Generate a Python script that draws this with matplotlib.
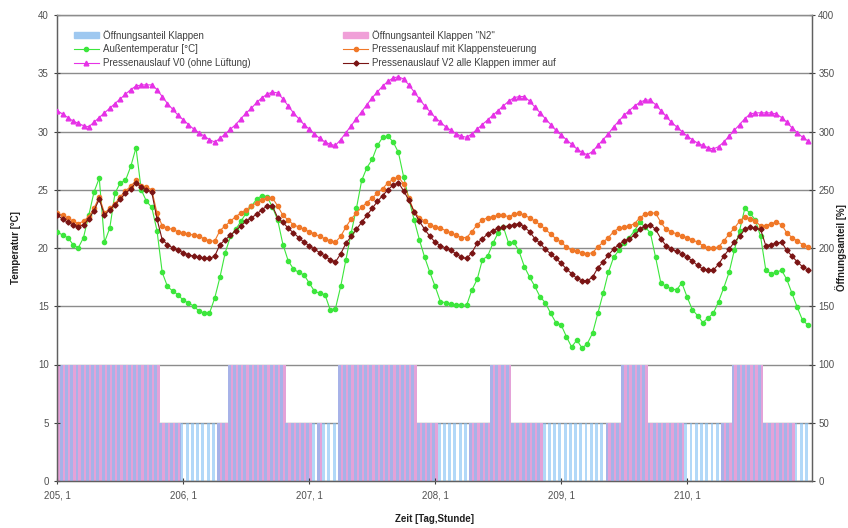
import matplotlib
matplotlib.use("Agg")
import matplotlib.pyplot as plt
from matplotlib.patches import Patch
from matplotlib.lines import Line2D
import numpy as np

plt.rcParams['font.family'] = ['Liberation Sans', 'DejaVu Sans']

# hourly data, 144 hours starting at day 205, hour 1
hours = list(range(144))
day_ticks = [0, 24, 48, 72, 96, 120]
day_labels = ["205, 1", "206, 1", "207, 1", "208, 1", "209, 1", "210, 1"]

aussen = [21.4, 21.1, 20.9, 20.3, 20.0, 20.9, 22.8, 24.8, 26.0, 20.5, 21.7, 24.7, 25.6, 25.8, 27.0, 28.6,
          25.0, 24.0, 23.5, 21.5, 17.9, 16.7, 16.3, 16.0, 15.5, 15.3, 15.0, 14.6, 14.4, 14.4, 15.7, 17.5,
          19.6, 21.0, 21.6, 22.3, 23.0, 23.6, 24.2, 24.5, 24.4, 23.5, 22.4, 20.3, 18.9, 18.2, 17.9, 17.7,
          17.0, 16.3, 16.1, 16.0, 14.7, 14.8, 16.7, 19.0, 21.3, 23.4, 25.8, 26.9, 27.6, 28.8, 29.5, 29.6,
          29.1, 28.2, 26.1, 24.2, 22.4, 20.7, 19.2, 17.9, 16.7, 15.4, 15.3, 15.2, 15.1, 15.1, 15.1, 16.4,
          17.3, 19.0, 19.3, 20.4, 21.3, 21.8, 20.4, 20.5, 19.7, 18.4, 17.5, 16.7, 15.8, 15.3, 14.4, 13.6,
          13.4, 12.4, 11.5, 12.1, 11.4, 11.8, 12.7, 14.4, 16.1, 17.9, 19.2, 19.8, 20.4, 20.9, 21.5, 22.2,
          21.8, 21.3, 19.2, 17.0, 16.7, 16.5, 16.4, 17.0, 15.8, 14.7, 14.2, 13.6, 14.0, 14.4, 15.4, 16.6,
          17.9, 19.8, 21.5, 23.4, 23.0, 22.4, 21.0, 18.1, 17.8, 17.9, 18.1, 17.3, 16.1, 14.9, 13.8, 13.4]

v0 = [31.8, 31.5, 31.2, 30.9, 30.7, 30.5, 30.4, 30.8, 31.2, 31.6, 32.0, 32.4, 32.8, 33.2, 33.6, 33.9,
      34.0, 34.0, 34.0, 33.6, 33.0, 32.4, 31.9, 31.4, 31.0, 30.6, 30.2, 29.9, 29.6, 29.3, 29.1, 29.4,
      29.8, 30.2, 30.6, 31.1, 31.6, 32.0, 32.5, 32.9, 33.2, 33.4, 33.3, 32.8, 32.2, 31.6, 31.1, 30.6,
      30.2, 29.8, 29.4, 29.1, 28.9, 28.8, 29.3, 29.9, 30.5, 31.1, 31.7, 32.3, 32.9, 33.4, 33.9, 34.3,
      34.6, 34.7, 34.5, 34.0, 33.4, 32.8, 32.2, 31.7, 31.2, 30.8, 30.4, 30.1, 29.8, 29.6, 29.5, 29.8,
      30.2, 30.6, 31.0, 31.4, 31.8, 32.2, 32.6, 32.9, 33.0, 33.0, 32.6, 32.1, 31.6, 31.1, 30.6, 30.1,
      29.7, 29.3, 28.9, 28.5, 28.2, 28.0, 28.3, 28.8, 29.3, 29.8, 30.4, 30.9, 31.4, 31.8, 32.2, 32.5,
      32.7, 32.7, 32.3, 31.8, 31.3, 30.8, 30.4, 30.0, 29.6, 29.3, 29.0, 28.8, 28.6, 28.5, 28.7, 29.1,
      29.6, 30.1, 30.6, 31.1, 31.5, 31.6, 31.6, 31.6, 31.6, 31.5, 31.2, 30.8, 30.3, 29.9, 29.5, 29.2]

klappensteuerung = [23.0, 22.8, 22.6, 22.3, 22.1, 22.3, 22.7, 23.4, 24.4, 23.0, 23.4, 23.8, 24.4, 24.9, 25.3, 25.8,
                    25.3, 25.2, 25.0, 23.0, 21.9, 21.7, 21.6, 21.4, 21.3, 21.2, 21.1, 21.0, 20.8, 20.6, 20.6, 21.5,
                    21.9, 22.3, 22.7, 23.0, 23.3, 23.6, 23.9, 24.1, 24.3, 24.3, 23.6, 22.8, 22.4, 22.0, 21.8, 21.6,
                    21.4, 21.2, 21.0, 20.8, 20.6, 20.5, 21.0, 21.8, 22.5, 23.0, 23.5, 23.9, 24.3, 24.7, 25.1, 25.6,
                    25.9, 26.1, 25.5, 24.3, 23.1, 22.6, 22.3, 22.0, 21.8, 21.7, 21.5, 21.3, 21.1, 20.9, 20.9, 21.4,
                    22.0, 22.4, 22.6, 22.7, 22.8, 22.8, 22.7, 22.9, 23.0, 22.8, 22.6, 22.3, 22.0, 21.6, 21.2, 20.8,
                    20.5, 20.1, 19.8, 19.7, 19.6, 19.5, 19.6, 20.1, 20.5, 20.9, 21.4, 21.7, 21.8, 21.9, 22.1, 22.6,
                    22.9, 23.0, 23.0, 22.2, 21.6, 21.4, 21.2, 21.0, 20.9, 20.7, 20.5, 20.2, 20.0, 20.0, 20.1, 20.6,
                    21.2, 21.7, 22.3, 22.7, 22.5, 22.3, 21.9, 21.9, 22.1, 22.2, 22.0, 21.3, 20.9, 20.6, 20.3, 20.1]

v2 = [22.8, 22.5, 22.2, 22.0, 21.8, 22.0, 22.5, 23.2, 24.2, 22.8, 23.3, 23.7, 24.2, 24.7, 25.1, 25.6,
      25.2, 25.0, 24.8, 22.5, 20.7, 20.3, 20.0, 19.8, 19.6, 19.4, 19.3, 19.2, 19.1, 19.1, 19.3, 20.3,
      20.7, 21.1, 21.5, 21.9, 22.3, 22.6, 22.9, 23.3, 23.6, 23.6, 22.6, 22.2, 21.7, 21.3, 20.9, 20.5,
      20.2, 19.9, 19.6, 19.3, 19.0, 18.8, 19.5, 20.4, 21.0, 21.6, 22.2, 22.8, 23.4, 24.0, 24.5, 25.0,
      25.4, 25.6, 24.9, 24.1, 23.1, 22.3, 21.6, 21.0, 20.5, 20.2, 20.0, 19.8, 19.5, 19.2, 19.1, 19.6,
      20.4, 20.8, 21.2, 21.5, 21.7, 21.8, 21.9, 22.0, 22.1, 21.8, 21.4, 20.8, 20.4, 19.9, 19.5, 19.1,
      18.7, 18.2, 17.8, 17.4, 17.2, 17.2, 17.5, 18.3, 18.8, 19.4, 19.9, 20.3, 20.6, 20.8, 21.1, 21.6,
      21.9, 22.0, 21.6, 20.8, 20.2, 19.9, 19.7, 19.5, 19.2, 18.9, 18.5, 18.2, 18.1, 18.1, 18.6, 19.3,
      19.9, 20.5, 21.0, 21.6, 21.8, 21.7, 21.6, 20.2, 20.3, 20.4, 20.5, 19.8, 19.3, 18.8, 18.4, 18.1]

# opening share in %, hourly
klappen = [100, 100, 100, 100, 100, 100, 100, 100, 100, 100, 100, 100, 100, 100, 100, 100,
           100, 100, 100, 100, 50, 50, 50, 50, 50, 50, 50, 50, 50, 50, 50, 50,
           50, 100, 100, 100, 100, 100, 100, 100, 100, 100, 100, 100, 50, 50, 50, 50,
           50, 50, 50, 50, 50, 50, 100, 100, 100, 100, 100, 100, 100, 100, 100, 100,
           100, 100, 100, 100, 100, 50, 50, 50, 50, 50, 50, 50, 50, 50, 50, 50,
           50, 50, 50, 100, 100, 100, 100, 50, 50, 50, 50, 50, 50, 50, 50, 50,
           50, 50, 50, 50, 50, 50, 50, 50, 50, 50, 50, 50, 100, 100, 100, 100,
           100, 50, 50, 50, 50, 50, 50, 50, 50, 50, 50, 50, 50, 50, 50, 50,
           50, 100, 100, 100, 100, 100, 100, 50, 50, 50, 50, 50, 50, 50, 50, 50]

klappen_n2 = [100, 100, 100, 100, 100, 100, 100, 100, 100, 100, 100, 100, 100, 100, 100, 100,
              100, 100, 100, 100, 50, 50, 50, 50, 0, 0, 0, 0, 0, 0, 0, 50,
              50, 100, 100, 100, 100, 100, 100, 100, 100, 100, 100, 100, 50, 50, 50, 50,
              50, 0, 50, 0, 0, 0, 100, 100, 100, 100, 100, 100, 100, 100, 100, 100,
              100, 100, 100, 100, 100, 50, 50, 50, 50, 0, 0, 0, 0, 0, 0, 50,
              50, 50, 50, 100, 100, 100, 100, 50, 50, 50, 50, 50, 50, 0, 0, 0,
              0, 0, 0, 0, 0, 0, 0, 0, 0, 50, 50, 50, 100, 100, 100, 100,
              100, 50, 50, 50, 50, 50, 50, 50, 0, 0, 0, 0, 0, 0, 0, 50,
              50, 100, 100, 100, 100, 100, 100, 50, 50, 50, 50, 50, 50, 0, 0, 0]

W, H = 848, 528
fig = plt.figure(figsize=(W / 100, H / 100), dpi=100)
ax = fig.add_axes([57 / W, 1 - 481 / H, (812 - 57) / W, (481 - 15) / H])
ax2 = ax.twinx()
ax.set_zorder(ax2.get_zorder() + 1)
ax.patch.set_visible(False)

hrs = np.array(hours, dtype=float)
# bars on the right axis
ax2.bar(hrs, klappen_n2, width=1.0, color='#E4A2D8', zorder=2, linewidth=0)
ax2.bar(hrs - 0.25, klappen, width=0.55, color='#7FBEF4', alpha=0.6, zorder=3, linewidth=0)
ax2.set_ylim(0, 400)
ax2.set_yticks(range(0, 401, 50))
ax2.grid(axis='y', color='#8c8c8c', linewidth=1.0, zorder=1)
ax2.set_axisbelow(True)

ms = 3.0
ax.plot(hrs, aussen, color='#3CE63C', lw=0.8, marker='o', ms=ms, mec='#3CE63C', zorder=5)
ax.plot(hrs, v0, color='#E632E6', lw=0.8, marker='^', ms=ms + 0.4, mec='#E632E6', zorder=5)
ax.plot(hrs, klappensteuerung, color='#F07828', lw=0.8, marker='o', ms=ms, mec='#F07828', zorder=5)
ax.plot(hrs, v2, color='#7A1414', lw=0.8, marker='D', ms=ms - 0.4, mec='#7A1414', zorder=6)

ax.set_xlim(-0.05, 143.8)
ax.set_ylim(0, 40)
ax.set_yticks(range(0, 41, 5))
ax.set_xticks(day_ticks)
ax.set_xticklabels(day_labels)

tc = '#505050'
for a in (ax, ax2):
    a.tick_params(axis='both', labelsize=7, colors='#404040', labelcolor=tc, direction='inout', length=5, width=0.8)
    for s in a.spines.values():
        s.set_color('#606060')
        s.set_linewidth(0.9)
    a.spines['top'].set_color('#8c8c8c')
ax.tick_params(axis='x', pad=4)
ax2.tick_params(axis='y', pad=2)

ax.set_ylabel('Temperatur [°C]', fontsize=7, fontweight='bold', color='#202020', labelpad=12)
ax2.set_ylabel('Öffnungsanteil [%]', fontsize=7, fontweight='bold', color='#202020', rotation=90)
ax2.yaxis.set_label_coords(1.031, 0.5)
ax.set_xlabel('Zeit [Tag,Stunde]', fontsize=7, fontweight='bold', color='#202020', labelpad=10)

handles = [
    Patch(facecolor='#9EC8F0', edgecolor='#9EC8F0'),
    Line2D([], [], color='#3CE63C', lw=0.8, marker='o', ms=ms),
    Line2D([], [], color='#E632E6', lw=0.8, marker='^', ms=ms + 0.4),
    Patch(facecolor='#F0A0D8', edgecolor='#F0A0D8'),
    Line2D([], [], color='#F07828', lw=0.8, marker='o', ms=ms),
    Line2D([], [], color='#7A1414', lw=0.8, marker='D', ms=ms - 0.4),
]
labels = ['Öffnungsanteil Klappen', 'Außentemperatur [°C]', 'Pressenauslauf V0 (ohne Lüftung)',
          'Öffnungsanteil Klappen "N2"', 'Pressenauslauf mit Klappensteuerung',
          'Pressenauslauf V2 alle Klappen immer auf']
leg = ax.legend(handles, labels, ncol=2, loc='upper left', bbox_to_anchor=(0.012, 0.985),
                fontsize=7, frameon=True, facecolor='white', edgecolor='none', framealpha=1,
                handlelength=2.6, handleheight=0.6, columnspacing=9.5, labelspacing=0.38,
                borderpad=0.3, handletextpad=0.4)
for t in leg.get_texts():
    t.set_color('#404040')

fig.savefig('out.png', dpi=100)
